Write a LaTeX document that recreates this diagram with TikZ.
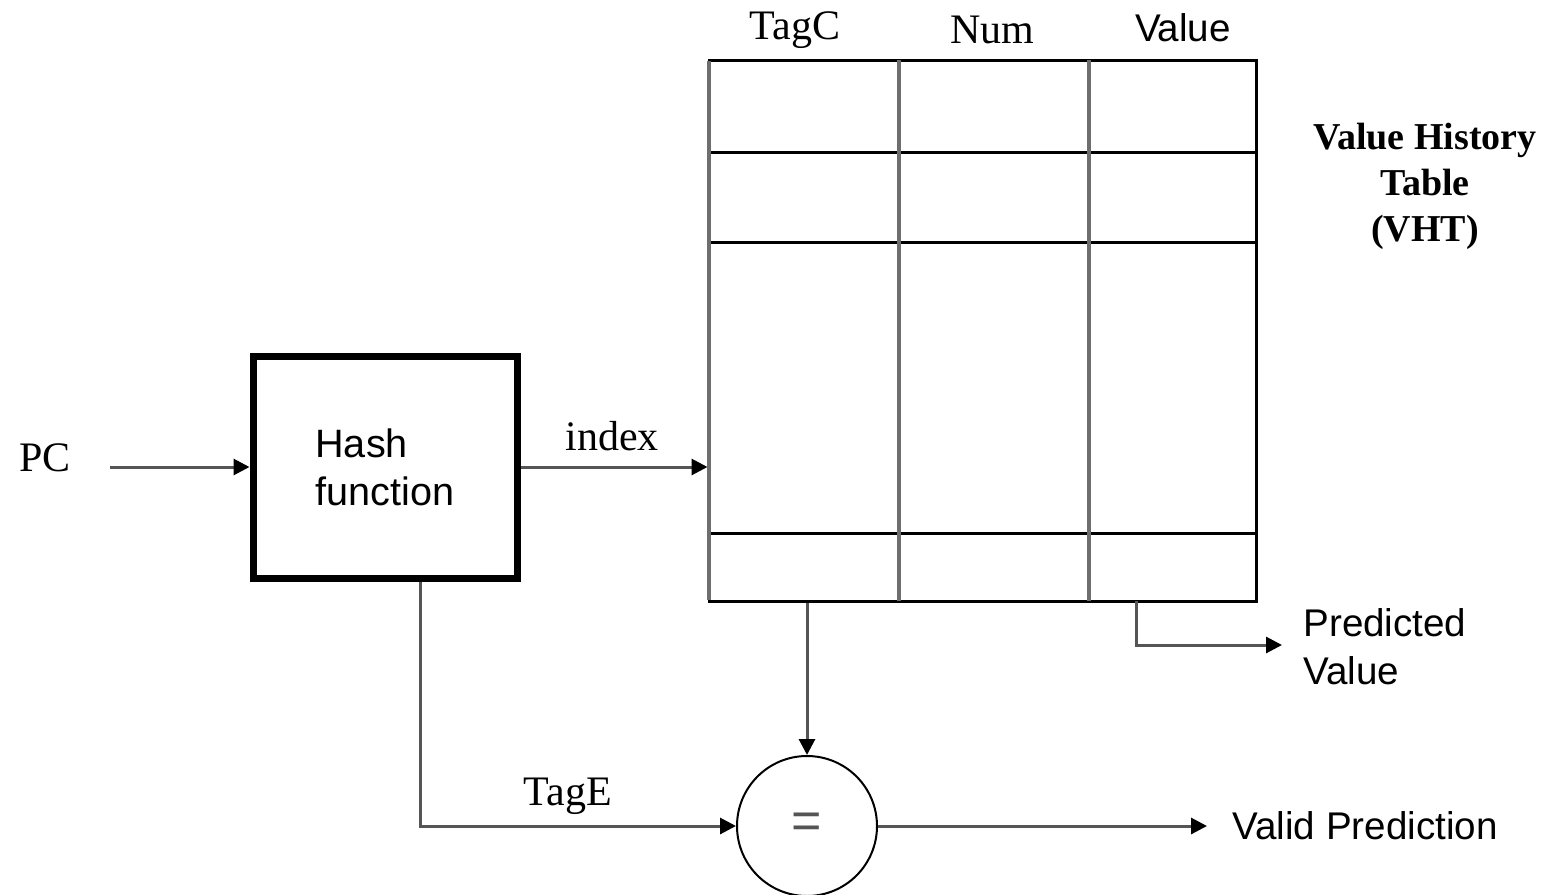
\documentclass[tikz,border=0pt]{standalone}
\usepackage{fontspec}
\setmainfont{Liberation Serif}
\setsansfont{Liberation Sans}
\usetikzlibrary{arrows.meta}
\definecolor{wire}{RGB}{85,85,85}
\definecolor{rule}{RGB}{110,110,110}
\begin{document}
\begin{tikzpicture}[x=0.5pt,y=-0.5pt,
  arr/.style={draw=wire,line width=1.5pt,-{Triangle[length=8pt,width=8pt,fill=black,color=black]}},
  serifl/.style={font=\fontsize{21}{23}\selectfont},
  sansl/.style={font=\sffamily\fontsize{19.3}{24}\selectfont},
  hashbox/.style={draw=black,line width=3.5pt,minimum width=132pt,minimum height=111pt,inner sep=0pt},
  tablebox/.style={draw=black,line width=1.5pt,minimum width=273.5pt,minimum height=270.5pt,inner sep=0pt},
  cmpnode/.style={draw=black,line width=1pt,circle,minimum size=70pt,inner sep=0pt}]
\useasboundingbox (0,0) rectangle (1544,895);

% blocks
\node[hashbox] (hash) at (385,467) {};
\node[sansl,align=left,anchor=west,inner sep=0pt,font=\sffamily\fontsize{19.8}{24}\selectfont] (hashtxt) at (315,467) {Hash\\function};
\node[tablebox] (vht) at (982.5,330.5) {};
\node[cmpnode] (eq) at (807,826) {};
\node[text=wire,font=\sffamily\fontsize{26}{28}\selectfont] (eqtxt) at (807,826) {=};

% table grid: horizontal rows in black, column rules in gray
\draw[black,line width=1.5pt] (709,152) -- (1256,152)
                              (709,242) -- (1256,242)
                              (709,533) -- (1256,533);
\draw[rule,line width=2pt] (899,60) -- (899,601)
                           (1089,60) -- (1089,601);
\draw[rule,line width=2pt] (709,61) -- (709,600);

% labels
\node[serifl] (pc) at (45,458) {PC};
\node[serifl] (idx) at (612,436) {index};
\node[serifl] (tagc) at (795,30) {TagC};
\node[serifl] (num) at (992,30) {Num};
\node[sansl] (valh) at (1183,28) {Value};
\node[serifl,align=center,font=\bfseries\fontsize{19}{23}\selectfont] (vhtname) at (1425,186) {Value History\\Table\\(VHT)};
\node[serifl] (tage) at (568,796) {TagE};
\node[sansl,anchor=west,inner sep=0pt] (valid) at (1232,826) {Valid Prediction};
\node[sansl,anchor=west,align=left,inner sep=0pt] (pred) at (1303,647) {Predicted\\Value};

% connector end points
\coordinate (pcout) at (110,467);
\coordinate (validend) at (1207,826);
\coordinate (predstart) at (1136,601);
\coordinate (predend) at (1282,645);

% connectors
\draw[arr] (pcout) -- (hash.west);
\draw[arr] (hash.east) -- (hash.east -| vht.west);
\draw[arr] (eq.north |- vht.south) -- (eq.north);
\draw[arr] ([xshift=17.5pt]hash.south) |- (eq.west);
\draw[arr] (eq.east) -- (validend);
\draw[arr] (predstart) |- (predend);
\end{tikzpicture}
\end{document}
